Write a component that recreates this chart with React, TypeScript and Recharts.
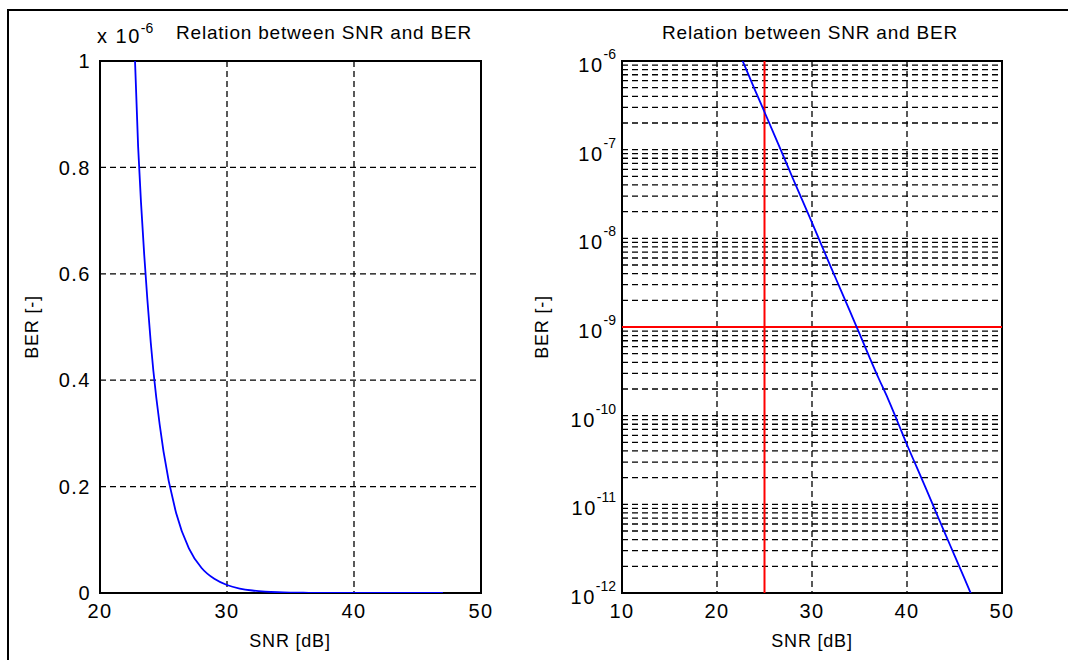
import {
  LineChart,
  Line,
  XAxis,
  YAxis,
  CartesianGrid,
  ReferenceLine,
  ReferenceArea,
} from 'recharts';

// SNR [dB] and BER values
const snrValues = [22, 23, 24, 25, 26, 27, 28, 29, 30, 31, 32, 33, 34, 35, 36, 37, 38, 39, 40, 41, 42, 43, 44, 45, 46, 47];
const berValues = [
  1.5e-6, 8.4e-7, 4.7e-7, 2.66e-7, 1.5e-7, 8.4e-8, 4.7e-8, 2.66e-8, 1.5e-8, 8.4e-9,
  4.7e-9, 2.66e-9, 1.5e-9, 8.4e-10, 4.7e-10, 2.66e-10, 1.55e-10, 8.6e-11, 4.7e-11, 2.66e-11,
  1.5e-11, 8.4e-12, 4.7e-12, 2.66e-12, 1.5e-12, 8.4e-13,
];

const linXTicks = [20, 30, 40, 50];
const linYTicks = [0, 2e-7, 4e-7, 6e-7, 8e-7, 1e-6];
const logXTicks = [10, 20, 30, 40, 50];
const logYTicks = [1e-12, 1e-11, 1e-10, 1e-9, 1e-8, 1e-7, 1e-6];
const logMultipliers = [1, 2, 3, 4, 5, 6, 7, 8, 9];
const snrLimit = 25;
const berLimit = 1e-9;

const data = snrValues.map((snr, i) => ({ snr, ber: berValues[i] }));

// major + minor lines of the log grid (inner ones only, edges are the frame)
const logGrid = logYTicks
  .slice(0, -1)
  .flatMap((d) => logMultipliers.map((m) => Number((m * d).toPrecision(3))))
  .filter((v) => v > 1e-12);

const FONT = '"Liberation Sans", Arial, Helvetica, sans-serif';
const GRID_DASH = '6 4';

const XTick = ({ x, y, payload }: any) => (
  <text x={x} y={y} dy="0.78em" textAnchor="middle" fontSize={20} fontFamily={FONT} fill="#000" style={{ letterSpacing: 1.5 }}>
    {payload.value}
  </text>
);

const LinYTick = ({ x, y, payload }: any) => (
  <text x={x} y={y} dy="0.36em" textAnchor="end" fontSize={20} fontFamily={FONT} fill="#000" style={{ letterSpacing: 1.5 }}>
    {Number((payload.value * 1e6).toFixed(1))}
  </text>
);

const LogYTick = ({ x, y, payload }: any) => {
  const exp = Math.round(Math.log10(payload.value));
  return (
    <text x={x} y={y} textAnchor="end" fontFamily={FONT} fill="#000" style={{ letterSpacing: 1.5 }}>
      <tspan dy={11} fontSize={20}>10</tspan>
      <tspan dy={-13} fontSize={14} style={{ letterSpacing: 0 }}>{exp}</tspan>
    </text>
  );
};

const textStyle = { position: 'absolute' as const, fontFamily: FONT, color: '#000', whiteSpace: 'nowrap' as const };

export default function App() {
  return (
    <div style={{ position: 'absolute', left: 0, top: 0, width: 1068, height: 660, background: '#fff', overflow: 'hidden' }}>
      <div style={{ position: 'absolute', left: 7, top: 9, width: 1100, height: 700, borderTop: '2.5px solid #000', borderLeft: '2.5px solid #000' }} />

      {/* left: linear BER axis */}
      <div style={{ position: 'absolute', left: 0, top: 0 }}>
        <LineChart width={520} height={660} data={data} margin={{ top: 61, right: 39, bottom: 27, left: 0 }}>
          <CartesianGrid stroke="#000" strokeWidth={1.3} strokeDasharray={GRID_DASH} horizontalValues={linYTicks} verticalValues={linXTicks} />
          <XAxis
            dataKey="snr"
            type="number"
            domain={[20, 50]}
            ticks={linXTicks}
            allowDataOverflow
            height={40}
            tickSize={0}
            tickMargin={9}
            axisLine={false}
            tick={<XTick />}
          />
          <YAxis
            type="number"
            domain={[0, 1e-6]}
            ticks={linYTicks}
            allowDataOverflow
            width={100}
            tickSize={0}
            tickMargin={9}
            axisLine={false}
            tick={<LinYTick />}
          />
          <ReferenceArea x1={20} x2={50} y1={0} y2={1e-6} fill="none" fillOpacity={0} stroke="#000" strokeWidth={2} />
          <Line type="monotone" dataKey="ber" stroke="#0000ff" strokeWidth={1.8} dot={false} isAnimationActive={false} />
        </LineChart>
      </div>

      {/* right: logarithmic BER axis */}
      <div style={{ position: 'absolute', left: 520, top: 0 }}>
        <LineChart width={548} height={660} data={data} margin={{ top: 61, right: 66, bottom: 27, left: 0 }}>
          <CartesianGrid stroke="#000" strokeWidth={1.3} strokeDasharray={GRID_DASH} horizontal={false} verticalValues={logXTicks} />
          <XAxis
            dataKey="snr"
            type="number"
            domain={[10, 50]}
            ticks={logXTicks}
            allowDataOverflow
            height={40}
            tickSize={0}
            tickMargin={9}
            axisLine={false}
            tick={<XTick />}
          />
          <YAxis
            type="number"
            scale="log"
            domain={[1e-12, 1e-6]}
            ticks={logYTicks}
            allowDataOverflow
            width={102}
            tickSize={0}
            tickMargin={6}
            axisLine={false}
            tick={<LogYTick />}
          />
          {logGrid.map((v) => (
            <ReferenceLine key={v} y={v} stroke="#000" strokeWidth={1.3} strokeDasharray={GRID_DASH} />
          ))}
          <ReferenceLine x={snrLimit} stroke="#ff0000" strokeWidth={2} />
          <ReferenceLine y={berLimit} stroke="#ff0000" strokeWidth={2} />
          <ReferenceArea x1={10} x2={50} y1={1e-12} y2={1e-6} fill="none" fillOpacity={0} stroke="#000" strokeWidth={2} />
          <Line type="monotone" dataKey="ber" stroke="#0000ff" strokeWidth={1.8} dot={false} isAnimationActive={false} />
        </LineChart>
      </div>

      {/* titles and axis labels */}
      <div style={{ ...textStyle, left: 97, top: 22, fontSize: 20, letterSpacing: 1.5 }}>
        x 10<sup style={{ fontSize: 14, position: 'relative', top: -2, letterSpacing: 0 }}>-6</sup>
      </div>
      <div style={{ ...textStyle, left: 176, top: 22, fontSize: 19, letterSpacing: 0.8 }}>Relation between SNR and BER</div>
      <div style={{ ...textStyle, left: 662, top: 22, fontSize: 19, letterSpacing: 0.8 }}>Relation between SNR and BER</div>

      <div style={{ ...textStyle, left: 290, top: 641, fontSize: 18, letterSpacing: 0.8, transform: 'translate(-50%, -50%)' }}>SNR [dB]</div>
      <div style={{ ...textStyle, left: 812, top: 641, fontSize: 18, letterSpacing: 0.8, transform: 'translate(-50%, -50%)' }}>SNR [dB]</div>

      <div style={{ ...textStyle, left: 32, top: 327, fontSize: 18, letterSpacing: 0.8, transform: 'translate(-50%, -50%) rotate(-90deg)' }}>BER [-]</div>
      <div style={{ ...textStyle, left: 542, top: 327, fontSize: 18, letterSpacing: 0.8, transform: 'translate(-50%, -50%) rotate(-90deg)' }}>BER [-]</div>
    </div>
  );
}
